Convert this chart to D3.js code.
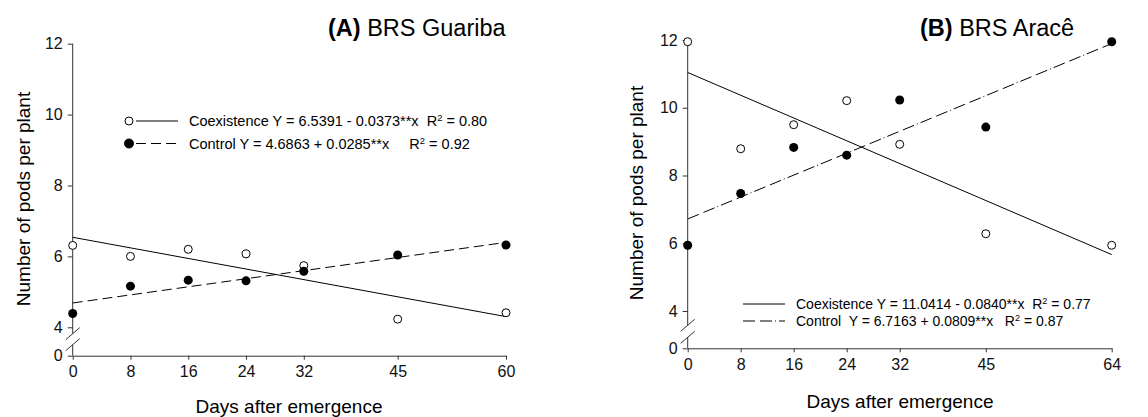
<!DOCTYPE html>
<html>
<head>
<meta charset="utf-8">
<script src="https://cdn.jsdelivr.net/npm/d3@7"></script>
<style>
  body { margin: 0; background: #fff; }
  svg { display: block; font-family: Arial, "Liberation Sans", sans-serif; }
  text { white-space: pre; }
</style>
</head>
<body>
<div id="chart"></div>
<script>
// Data
const yTicks = [0, 4, 6, 8, 10, 12];

const daysA = [0, 8, 16, 24, 32, 45, 60];
const coexA = [6.31, 6.0, 6.2, 6.07, 5.74, 4.23, 4.41];
const controlA = [4.39, 5.16, 5.33, 5.31, 5.58, 6.04, 6.32];
const coexFitA = [6.5391, -0.0373];
const controlFitA = [4.6863, 0.0285];
const legendA = ['Coexistence Y = 6.5391 - 0.0373**x  ', 'Control Y = 4.6863 + 0.0285**x     '];
const r2A = ['0.80', '0.92'];

const daysB = [0, 8, 16, 24, 32, 45, 64];
const coexB = [11.95, 8.79, 9.5, 10.21, 8.92, 6.28, 5.94];
const controlB = [5.94, 7.47, 8.83, 8.6, 10.23, 9.43, 11.95];
const coexFitB = [11.0414, -0.0840];
const controlFitB = [6.7163, 0.0809];
const legendB = ['Coexistence Y = 11.0414 - 0.0840**x  ', 'Control  Y = 6.7163 + 0.0809**x   '];
const r2B = ['0.77', '0.87'];

const width = 1148;
const height = 417;

const svg = d3.select('#chart')
  .append('svg')
    .attr('width', width)
    .attr('height', height);

const drawPanel = (p) => {
  const g = svg.append('g');

  // Scales (y has a break between 0 and 4)
  const xScale = d3.scaleLinear()
    .domain([0, d3.max(p.days)])
    .range([p.left, p.right]);

  const yScale = d3.scaleLinear()
    .domain([0, 4, 12])
    .range([p.y0, p.y4, p.y12]);

  // Axes
  const yAxis = g.append('g')
    .attr('transform', `translate(${p.left},0)`)
    .call(d3.axisLeft(yScale).tickValues(yTicks).tickSize(5).tickSizeOuter(0).tickPadding(5));
  yAxis.select('.domain').remove();
  yAxis.selectAll('line').attr('stroke', '#333');
  yAxis.selectAll('text').attr('font-size', 16).attr('fill', '#111').attr('font-family', null);

  const xAxis = g.append('g')
    .attr('transform', `translate(0,${p.y0})`)
    .call(d3.axisBottom(xScale).tickValues(p.days).tickSize(4).tickSizeOuter(0).tickPadding(6));
  xAxis.select('.domain').attr('stroke', '#333');
  xAxis.selectAll('line').attr('stroke', '#333');
  xAxis.selectAll('text').attr('font-size', 16).attr('fill', '#111').attr('font-family', null);

  // y axis line with the break marks
  const b1 = p.y0 - p.breakTop;
  const b2 = p.y0 - p.breakBottom;
  g.append('line')
    .attr('x1', p.left).attr('x2', p.left)
    .attr('y1', p.y12).attr('y2', b1)
    .attr('stroke', '#333');
  g.append('line')
    .attr('x1', p.left).attr('x2', p.left)
    .attr('y1', b2).attr('y2', p.y0)
    .attr('stroke', '#333');
  [b1, b2].forEach((yb) => {
    g.append('line')
      .attr('x1', p.left - 7).attr('y1', yb + 6)
      .attr('x2', p.left + 7).attr('y2', yb - 6)
      .attr('stroke', '#333');
  });

  // Regression lines
  const fitLine = (fit) => [0, d3.max(p.days)].map((d) => [xScale(d), yScale(fit[0] + fit[1] * d)]);
  g.append('path')
    .attr('d', d3.line()(fitLine(p.coexFit)))
    .attr('fill', 'none')
    .attr('stroke', '#000')
    .attr('stroke-width', 1);
  g.append('path')
    .attr('d', d3.line()(fitLine(p.controlFit)))
    .attr('fill', 'none')
    .attr('stroke', '#000')
    .attr('stroke-width', 1)
    .attr('stroke-dasharray', p.dash);

  // Points
  g.selectAll('.coex')
    .data(p.days)
    .join('circle')
      .attr('cx', (d) => xScale(d))
      .attr('cy', (d, i) => yScale(p.coex[i]))
      .attr('r', 4)
      .attr('fill', '#fff')
      .attr('stroke', '#000');
  g.selectAll('.control')
    .data(p.days)
    .join('circle')
      .attr('cx', (d) => xScale(d))
      .attr('cy', (d, i) => yScale(p.control[i]))
      .attr('r', 4.5)
      .attr('fill', '#000');

  // Axis titles
  g.append('text')
    .attr('x', p.xTitleX)
    .attr('y', p.xTitleY)
    .attr('text-anchor', 'middle')
    .attr('font-size', 19)
    .text('Days after emergence');
  g.append('text')
    .attr('transform', `translate(${p.yTitleX},${p.yTitleY}) rotate(-90)`)
    .attr('text-anchor', 'middle')
    .attr('font-size', 19)
    .text('Number of pods per plant');

  // Panel title
  const title = g.append('text')
    .attr('x', p.titleX)
    .attr('y', 36)
    .attr('font-size', 23.5);
  title.append('tspan').attr('font-weight', 'bold').text(p.tag);
  title.append('tspan').text(' ' + p.name);

  // Legend
  p.legend.forEach((label, i) => {
    const ly = p.legendY + i * p.legendGap;
    if (p.legendMarkers) {
      g.append('circle')
        .attr('cx', p.legendX - 60)
        .attr('cy', ly - 5)
        .attr('r', i === 0 ? 4 : 4.5)
        .attr('fill', i === 0 ? '#fff' : '#000')
        .attr('stroke', '#000');
    }
    g.append('line')
      .attr('x1', p.legendX - 53).attr('x2', p.legendX - 11)
      .attr('y1', ly - 5).attr('y2', ly - 5)
      .attr('stroke', '#000')
      .attr('stroke-dasharray', i === 0 ? null : p.dash);
    const t = g.append('text')
      .attr('x', p.legendX)
      .attr('y', ly)
      .attr('font-size', p.legendSize);
    t.append('tspan').text(label + 'R');
    t.append('tspan').attr('dy', -5).attr('font-size', p.legendSize * 0.65).text('2');
    t.append('tspan').attr('dy', 5).text(' = ' + p.r2[i]);
  });
};

drawPanel({
  days: daysA, coex: coexA, control: controlA,
  coexFit: coexFitA, controlFit: controlFitA,
  legend: legendA, r2: r2A, legendMarkers: true,
  left: 72.7, right: 506, y0: 355.7, y4: 327.3, y12: 43.7,
  breakTop: 22, breakBottom: 11,
  dash: '10,5',
  xTitleX: 289, xTitleY: 413, yTitleX: 29.5, yTitleY: 199,
  titleX: 328, tag: '(A)', name: 'BRS Guariba',
  legendX: 189, legendY: 126, legendGap: 22.5, legendSize: 14.5
});

drawPanel({
  days: daysB, coex: coexB, control: controlB,
  coexFit: coexFitB, controlFit: controlFitB,
  legend: legendB, r2: r2B, legendMarkers: false,
  left: 687.7, right: 1111.7, y0: 348.3, y4: 311, y12: 40,
  breakTop: 23, breakBottom: 11,
  dash: '12,5,12,3,1,3',
  xTitleX: 900, xTitleY: 408, yTitleX: 642.5, yTitleY: 193,
  titleX: 920, tag: '(B)', name: 'BRS Aracê',
  legendX: 796, legendY: 309, legendGap: 17, legendSize: 14
});
</script>
</body>
</html>
